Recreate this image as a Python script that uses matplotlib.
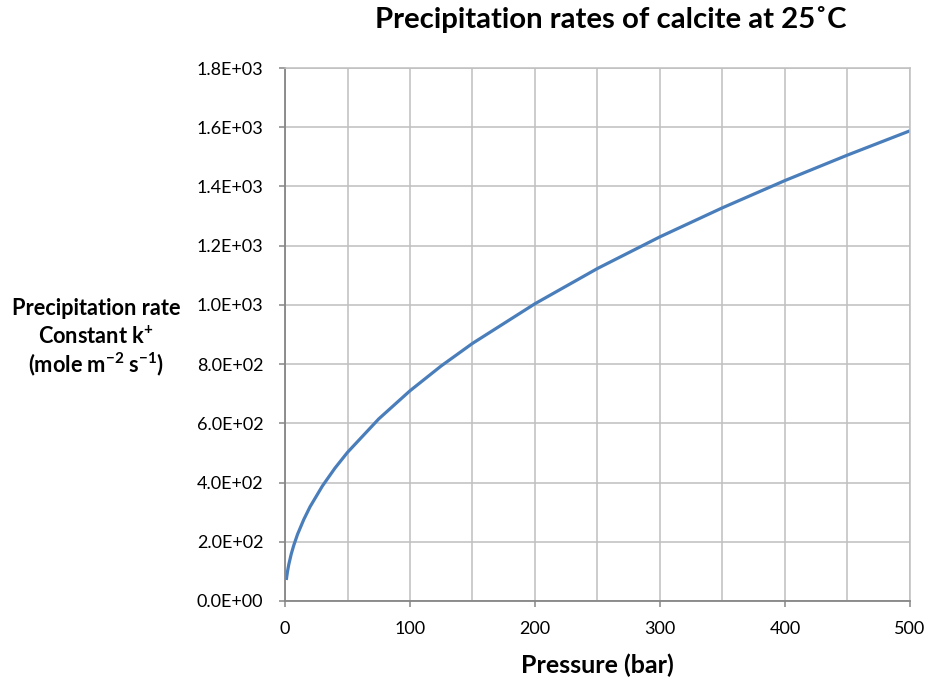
import matplotlib
matplotlib.use("Agg")
import matplotlib.pyplot as plt
from matplotlib.ticker import FuncFormatter, MultipleLocator

plt.rcParams['font.family'] = ['Lato', 'DejaVu Sans']
plt.rcParams['mathtext.fontset'] = 'custom'
plt.rcParams['mathtext.rm'] = 'Lato'
plt.rcParams['mathtext.bf'] = 'Lato:bold'

# rate constant k+ (mole m-2 s-1) vs pressure (bar)
pressure = [1, 2, 3, 5, 7, 10, 15, 20, 30, 40, 50, 75, 100, 125, 150, 200,
            250, 300, 350, 400, 450, 500]
rate = [71, 100, 123, 159, 188, 225, 275, 318, 389, 449, 502, 615, 710, 794,
        870, 1004, 1123, 1230, 1328, 1420, 1506, 1588]

grid_col = '#BFBFBF'
axis_col = '#868686'

fig = plt.figure(figsize=(9.29, 6.81), dpi=100)
ax = fig.add_axes([0.3068, 0.1175, 0.6727, 0.7826])

ax.plot(pressure, rate, color='#4A7EBB', lw=2.3, solid_capstyle='butt')

ax.set_xlim(0, 500)
ax.set_ylim(0, 1800)
ax.xaxis.set_major_locator(MultipleLocator(100))
ax.yaxis.set_major_locator(MultipleLocator(200))
ax.yaxis.set_major_formatter(FuncFormatter(lambda v, p: f"{v:.1E}"))

# minor grid every 50 bar
ax.xaxis.set_minor_locator(MultipleLocator(50))
ax.grid(True, which='both', axis='x', color=grid_col, lw=1.1)
ax.grid(True, which='major', axis='y', color=grid_col, lw=1.1)
ax.set_axisbelow(True)
ax.tick_params(axis='x', which='minor', length=0)
ax.tick_params(axis='both', which='major', direction='out', length=4.5,
               width=1.1, color=axis_col, labelsize=13)
ax.tick_params(axis='y', pad=11)
ax.tick_params(axis='x', pad=10)

for s in ['top', 'right']:
    ax.spines[s].set_color(grid_col)
    ax.spines[s].set_linewidth(1.1)
for s in ['left', 'bottom']:
    ax.spines[s].set_color(axis_col)
    ax.spines[s].set_linewidth(1.3)

fig.text(611 / 929, 1 - 28 / 681, 'Precipitation rates of calcite at 25˚C',
         ha='center', va='baseline', fontsize=21.2, fontweight='bold')
fig.text(597 / 929, 1 - 673 / 681, 'Pressure (bar)',
         ha='center', va='baseline', fontsize=18, fontweight='bold')

ylines = ['Precipitation rate',
          r'Constant k$^{\mathbf{+}}$',
          r'(mole m$^{\mathbf{-2}}$ s$^{\mathbf{-1}}$)']
for txt, yp in zip(ylines, [315, 344, 372]):
    fig.text(96 / 929, 1 - yp / 681, txt, ha='center', va='baseline',
             fontsize=15.7, fontweight='bold')

fig.savefig('out.png', dpi=100)
